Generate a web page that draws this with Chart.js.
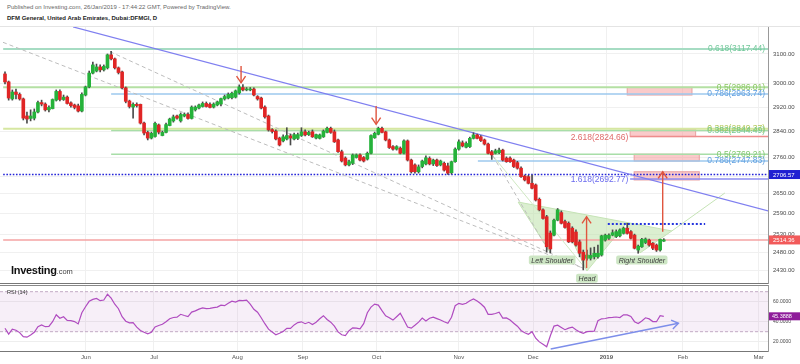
<!DOCTYPE html>
<html>
<head>
<meta charset="utf-8">
<script src="https://cdn.jsdelivr.net/npm/chart.js@4.4.1/dist/chart.umd.min.js"></script>
<style>
  body { margin:0; background:#fff; width:800px; height:364px; overflow:hidden; position:relative; font-family:"Liberation Sans", Arial, sans-serif; }
  #pub { position:absolute; left:7px; top:4px; font-size:6px; color:#666; white-space:nowrap; }
  #title { position:absolute; left:7px; top:14.5px; font-size:6px; font-weight:bold; color:#222; white-space:nowrap; }
  #sep { position:absolute; left:0; top:26px; width:800px; height:1px; background:#e4e4e4; }
  #price { position:absolute; left:0; top:27px; }
  #rsi { position:absolute; left:0; top:285px; }
  #logo { position:absolute; left:11px; top:264px; font-size:11px; font-weight:bold; color:#111; letter-spacing:-0.3px; }
  #logo span { font-size:7.5px; font-weight:normal; color:#444; letter-spacing:0; }
</style>
</head>
<body>
<div id="pub">Published on Investing.com, 26/Jan/2019 - 17:44:22 GMT, Powered by TradingView.</div>
<div id="title">DFM General, United Arab Emirates, Dubai:DFMGI, D</div>
<div id="sep"></div>
<canvas id="price" width="800" height="257"></canvas>
<canvas id="rsi" width="800" height="79"></canvas>
<div id="logo">Investing<span>.com</span></div>

<script>
// daily candles, May 2018 - 24 Jan 2019 (bar index 0..180)
const opens = [3031,3004,2947,2970,2962,2947,2891,2883,2884,2904,2935,2930,2911,2915,2943,2972,2945,2953,2934,2927,
  2924,2907,2960,2987,3034,3041,3055,3045,3052,3097,3083,3052,3038,2984,2940,2920,2929,2929,2868,2838,
  2820,2825,2862,2828,2838,2860,2875,2891,2875,2891,2896,2883,2911,2917,2922,2932,2929,2920,2927,2930,
  2947,2950,2951,2953,2967,2985,2977,2977,2980,2955,2950,2920,2891,2847,2842,2820,2811,2817,2827,2817,
  2819,2828,2840,2831,2840,2820,2819,2824,2838,2851,2840,2814,2777,2757,2736,2741,2759,2767,2759,2754,
  2772,2821,2832,2851,2840,2814,2793,2785,2788,2772,2811,2751,2736,2715,2731,2739,2756,2739,2751,2736,
  2741,2733,2712,2746,2785,2805,2791,2793,2819,2830,2824,2814,2801,2777,2772,2774,2782,2757,2757,2751,
  2743,2726,2702,2700,2680,2675,2632,2601,2581,2534,2528,2571,2593,2567,2562,2548,2537,2509,2480,2463,
  2463,2467,2467,2472,2514,2519,2528,2524,2526,2533,2548,2538,2528,2486,2495,2507,2514,2505,2500,2486,2511];
const highs = [3038,3007,2977,2980,2967,2950,2904,2911,2914,2940,2943,2934,2924,2947,2977,2977,2960,2957,2937,2930,
  2930,2967,2990,3041,3072,3065,3062,3062,3100,3109,3086,3055,3041,2987,2943,2934,2934,2930,2871,2842,
  2839,2871,2865,2842,2868,2884,2894,2894,2901,2901,2901,2924,2924,2930,2937,2937,2934,2934,2940,2950,
  2960,2967,2970,2977,2994,2995,2985,2985,2984,2958,2953,2924,2894,2850,2846,2823,2830,2853,2833,2836,
  2836,2853,2846,2842,2846,2833,2833,2846,2855,2855,2846,2817,2782,2761,2751,2770,2770,2770,2762,2776,
  2830,2839,2855,2855,2842,2817,2796,2796,2792,2814,2814,2754,2739,2736,2751,2764,2761,2754,2754,2751,
  2745,2742,2748,2789,2814,2811,2808,2823,2837,2833,2828,2817,2804,2781,2785,2788,2785,2761,2761,2754,
  2747,2730,2705,2704,2705,2678,2636,2604,2585,2540,2574,2605,2598,2571,2566,2552,2543,2514,2486,2486,
  2492,2494,2500,2528,2531,2532,2543,2543,2546,2551,2562,2541,2531,2500,2519,2520,2517,2507,2503,2517,2518];
const lows = [2997,2943,2943,2947,2943,2878,2868,2875,2878,2901,2924,2907,2904,2914,2940,2940,2942,2930,2920,2914,
  2904,2904,2957,2984,3031,3038,3038,3041,3048,3079,3048,3031,2980,2934,2917,2884,2920,2865,2830,2814,
  2817,2823,2833,2827,2836,2859,2871,2881,2871,2888,2881,2881,2907,2914,2920,2920,2917,2917,2924,2924,
  2943,2947,2947,2950,2963,2974,2974,2974,2957,2943,2914,2884,2842,2836,2814,2795,2808,2814,2798,2814,
  2815,2825,2827,2828,2822,2817,2817,2822,2836,2835,2806,2775,2745,2733,2733,2737,2757,2748,2745,2751,
  2770,2819,2830,2836,2811,2787,2782,2782,2770,2770,2748,2711,2711,2711,2727,2736,2736,2734,2731,2733,
  2717,2707,2708,2744,2782,2792,2789,2790,2817,2817,2809,2798,2770,2753,2770,2771,2748,2744,2744,2728,
  2723,2698,2687,2678,2663,2627,2598,2574,2480,2478,2526,2569,2560,2548,2507,2506,2497,2467,2431,2458,
  2458,2461,2463,2469,2511,2516,2526,2521,2523,2531,2531,2517,2489,2477,2493,2504,2497,2487,2482,2483,2510];
const closes = [3004,2950,2970,2962,2947,2884,2881,2891,2904,2935,2930,2911,2919,2945,2972,2945,2953,2932,2925,2919,
  2907,2962,2987,3034,3062,3055,3045,3057,3097,3083,3052,3036,2984,2939,2922,2929,2925,2868,2836,2820,
  2835,2867,2839,2838,2863,2881,2888,2884,2896,2896,2883,2920,2920,2927,2932,2922,2919,2930,2937,2948,
  2955,2962,2966,2974,2987,2977,2980,2980,2960,2947,2917,2888,2846,2841,2817,2798,2824,2828,2820,2831,
  2831,2840,2830,2838,2824,2831,2830,2842,2851,2838,2808,2777,2748,2736,2746,2767,2767,2751,2748,2772,
  2828,2835,2851,2838,2814,2790,2785,2793,2772,2811,2751,2715,2715,2730,2748,2758,2739,2751,2734,2748,
  2720,2711,2746,2785,2808,2795,2803,2819,2830,2819,2812,2801,2772,2767,2780,2782,2751,2746,2746,2731,
  2726,2700,2690,2680,2665,2630,2601,2576,2495,2489,2571,2601,2562,2550,2509,2509,2500,2477,2458,2472,
  2471,2477,2477,2526,2528,2528,2535,2538,2543,2548,2533,2519,2491,2497,2516,2517,2500,2491,2486,2516,2514.36];
// RSI(14)
const rsi14 = [33.4,27.6,32.5,31.5,29.1,25,24.5,26.7,29.4,35,36.7,35,35.3,40,47,43.4,44.9,41.3,41,40.1,
  37.8,49,55,60.4,62.3,63.3,61,61.7,67.4,63.5,57.5,53,45,40.5,38.8,39,34.5,31.2,29.4,27.8,
  29.5,34.7,36.2,37.4,40,43,44.2,44.5,47.4,46.2,45.1,49.6,50.8,52.6,53.8,53,53.3,54.1,54.6,56.6,
  56,58.4,60.5,59.6,61.3,61.1,61.6,57.5,52.4,49.5,44,38,32.5,29.8,27,28.5,30.3,33.4,33.3,36.8,
  39.1,39.9,38,39.4,37.2,39.4,42.9,46,42.2,39.5,35.6,29.8,26.9,26.2,31,33.9,33.5,32.8,38,49,
  54.6,57.6,56.6,51,45.8,44,41.6,45,48.5,41.7,34.7,33.6,36.5,39.6,43.7,40.7,43.5,44.5,43.1,41.7,
  40,38.4,44.5,56,58.4,57.4,58.4,61,62.7,60.7,58,54.5,47.4,47.4,48.2,49.4,43.6,43.8,41.6,38.5,
  35.5,31.2,29,27.4,30,23.5,19.8,17.4,15,26,35.6,36.5,34.2,32,33.6,34.6,32,29.8,28.4,30,
  30.3,30.6,41,42.9,43.2,44,44.3,44.7,44.2,46.9,46.8,45.2,40,38.2,40.7,43.9,42.8,40.1,40,46,45.3888];

// axis ticks
const monthLabels = ['Jun','Jul','Aug','Sep','Oct','Nov','Dec','2019','Feb','Mar'];
const monthBars = [22.1,40.7,63.5,81.4,101.5,124.0,144.3,164.3,185.2,205.9];
const priceTicks = [2430,2480,2530,2590,2650,2700,2760,2840,2920,3000,3100];
const rsiTicks = [20,40,60];

// drawings: horizontal levels (price, first bar, last bar)
const levelPrices = [3117.44,2986.01,2963.74,2849.37,2844.49,2769.21,2747.83,2824.66,2692.77,2706.57,2514.36,2560];
const levelFrom   = [-0.5,-0.5,29,-0.5,29,29,129.2,170.8,170.8,-0.5,-0.5,164.7];
const levelTo     = [209,209,209,209,209,209,209,209,209,209,209,191.3];
const fibNames = ['0.618(3117.44)','0.5(2986.01)','0.786(2963.74)','0.382(2849.37)','0.382(2844.49)','0.5(2769.21)','0.786(2747.83)'];
const fibPrices = [3117.44,2986.01,2963.74,2849.37,2844.49,2769.21,2747.83];
const extNames = ['2.618(2824.66)','1.618(2692.77)'];
const extPrices = [2824.66,2692.77];
// trend lines [bar, price]
const trendBlue = [[18.6,3196],[208.5,2598]];
const trendGrayA = [[-0.55,3141],[157.9,2436]];
const trendGrayB = [[28.7,3108],[157.9,2436]];
const trendGrayC = [[133.3,2764],[148.4,2486]];
const trendGreen = [[133.3,2764],[159,2430]];
// head & shoulders points
const hsBars   = [140.2,148.9,150.8,159,169.9,173.5,182.2];
const hsPrices = [2624,2480,2603,2428,2564,2478,2540];
const hsExtend = [[182.2,2540],[196.7,2651]];
// target boxes [bar from, bar to, price top, price bottom]
const boxes = [[170,187.7,2986,2960],[170.8,188.7,2848,2824.66],[171.9,189.7,2769.21,2747.83],[171.9,189.7,2715,2690]];
// arrows [bar, price from, price to]
const arrows = [[64.5,3058,3001],[101.4,2924,2864],[158.9,2436,2581],[179.7,2538,2715]];
const tags = [['Left Shoulder',149.5,2458],['Head',159,2408],['Right Shoulder',174,2458]];
// RSI divergence arrow [bar, rsi]
const rsiArrow = [[149.1,12.7],[184,38.4]];

const FONT = '"Liberation Sans", Arial, sans-serif';
const xMin = -1.366, xMax = 208.47;
const bars = closes.map((c, i) => i);
const up = bars.map(i => closes[i] >= opens[i]);

function seg(pts, color, width, dash, order) {
  return { type:'line', data: pts.map(p => ({x:p[0], y:p[1]})), borderColor:color, borderWidth:width,
    borderDash:dash || [], pointRadius:0, fill:false, tension:0, order:order };
}

const levelColors = ['#a6dcc3','#b4e0a3','#9cc8ee','#d6e7a1','#a8dea8','#a8dea8','#9cc8ee','#ee8c8c','#8c8cf2','#2424d8','#f5a3a3','#2233dd'];
const levelWidths = [2,2,1.5,2,1.5,1.5,1.5,1.5,1.5,1.6,1.5,2];
const levelDash = [null,null,null,null,null,null,null,null,null,[1.6,1.6],null,[2,2]];

const priceSets = [
  { type:'bar', data: bars.map(i => ({x:i, y:[opens[i], closes[i]]})),
    backgroundColor: up.map(u => u ? '#25b23a' : '#e02525'), barThickness:3, minBarLength:1, grouped:false, order:0 },
  { type:'bar', data: bars.map(i => ({x:i, y:[lows[i], highs[i]]})),
    backgroundColor:'#4a4a4a', barThickness:1, grouped:false, order:1 },
  seg(trendBlue, '#7f7ff0', 1.2, null, 2),
  seg(trendGrayA, '#bdbdbd', 1, [4,3], 2),
  seg(trendGrayB, '#bdbdbd', 1, [4,3], 2),
  seg(trendGrayC, '#bdbdbd', 1, [4,3], 2),
  seg(trendGreen, '#cfe8c2', 1, null, 2),
  seg(hsExtend, '#c5e3b5', 1, null, 2)
];
levelPrices.forEach((p, k) => {
  priceSets.push(seg([[levelFrom[k], p], [levelTo[k], p]], levelColors[k], levelWidths[k], levelDash[k], 3));
});

function drawArrow(ctx, x0, y0, x1, y1, color) {
  ctx.strokeStyle = color; ctx.lineWidth = 1.4;
  ctx.beginPath(); ctx.moveTo(x0, y0); ctx.lineTo(x1, y1); ctx.stroke();
  const a = Math.atan2(y1 - y0, x1 - x0), L = 8, w = 0.6;
  ctx.beginPath();
  ctx.moveTo(x1 - L * Math.cos(a - w), y1 - L * Math.sin(a - w));
  ctx.lineTo(x1, y1);
  ctx.lineTo(x1 - L * Math.cos(a + w), y1 - L * Math.sin(a + w));
  ctx.stroke();
}

function axisBox(ctx, chart, yPix, text, bg) {
  const left = chart.chartArea.right + 1;
  ctx.fillStyle = bg;
  ctx.fillRect(left, yPix - 4.5, 800 - left, 9);
  ctx.fillStyle = '#fff';
  ctx.font = '6px ' + FONT;
  ctx.textAlign = 'left'; ctx.textBaseline = 'middle';
  ctx.fillText(text, left + 4, yPix + 0.5);
}

// drop the label overhang padding so the plot fills the canvas
function noPadY(s) { s.width = 32; s.paddingTop = 0; s.paddingBottom = 0; }
function noPadX(h) { return s => { s.height = h; s.paddingLeft = 0; s.paddingRight = 0; }; }

const overlay = {
  id: 'overlay',
  beforeDatasetsDraw(chart) {
    const { ctx, chartArea: ca, scales: { x, y } } = chart;
    ctx.save();
    ctx.beginPath(); ctx.rect(ca.left, ca.top, ca.right - ca.left, ca.bottom - ca.top); ctx.clip();
    // head & shoulders fill
    const P = hsBars.map((b, k) => [x.getPixelForValue(b), y.getPixelForValue(hsPrices[k])]);
    [[0,1,2],[2,3,4],[4,5,6]].forEach(t => {
      ctx.beginPath();
      t.forEach((k, n) => n ? ctx.lineTo(P[k][0], P[k][1]) : ctx.moveTo(P[k][0], P[k][1]));
      ctx.closePath();
      ctx.fillStyle = 'rgba(190,225,170,0.55)';
      ctx.fill();
    });
    ctx.strokeStyle = '#c5e3b5'; ctx.lineWidth = 1;
    ctx.beginPath(); P.forEach((p, n) => n ? ctx.lineTo(p[0], p[1]) : ctx.moveTo(p[0], p[1])); ctx.stroke();
    ctx.beginPath(); ctx.moveTo(P[0][0], P[0][1]); ctx.lineTo(P[6][0], P[6][1]); ctx.stroke();
    // target boxes
    boxes.forEach(b => {
      const x0 = x.getPixelForValue(b[0]), x1 = x.getPixelForValue(b[1]);
      const y0 = y.getPixelForValue(b[2]), y1 = y.getPixelForValue(b[3]);
      ctx.fillStyle = 'rgba(245,150,150,0.5)';
      ctx.fillRect(x0, y0, x1 - x0, y1 - y0);
      ctx.strokeStyle = '#e9a0a0'; ctx.lineWidth = 1;
      ctx.strokeRect(x0, y0, x1 - x0, y1 - y0);
    });
    ctx.restore();
  },
  afterDatasetsDraw(chart) {
    const { ctx, chartArea: ca, scales: { x, y } } = chart;
    ctx.save();
    arrows.forEach(a => {
      const px = x.getPixelForValue(a[0]);
      drawArrow(ctx, px, y.getPixelForValue(a[1]), px, y.getPixelForValue(a[2]), '#e0553f');
    });
    // level texts
    ctx.font = '8.5px ' + FONT; ctx.textAlign = 'right'; ctx.textBaseline = 'middle';
    const fibColors = ['#72c89a','#8cc864','#5f9fe0','#b2c95a','#72c890','#80c870','#5f9fe0'];
    fibNames.forEach((t, k) => {
      ctx.fillStyle = fibColors[k];
      ctx.fillText(t, ca.right - 3, y.getPixelForValue(fibPrices[k]));
    });
    const extColors = ['#e06a6a','#6a6aee'];
    extNames.forEach((t, k) => {
      ctx.fillStyle = extColors[k];
      ctx.fillText(t, x.getPixelForValue(170.3), y.getPixelForValue(extPrices[k]) + 1);
    });
    // pattern tags
    ctx.font = 'italic 7px ' + FONT; ctx.textAlign = 'center';
    tags.forEach(t => {
      const cx = x.getPixelForValue(t[1]), cy = y.getPixelForValue(t[2]);
      const w = ctx.measureText(t[0]).width + 5;
      ctx.fillStyle = '#cde6c4';
      ctx.beginPath(); ctx.roundRect(cx - w / 2, cy - 4.5, w, 9, 2); ctx.fill();
      ctx.fillStyle = '#3c3c3c';
      ctx.fillText(t[0], cx, cy + 0.5);
    });
    // pane bottom border
    ctx.strokeStyle = '#777'; ctx.lineWidth = 1;
    ctx.beginPath(); ctx.moveTo(0, ca.bottom - 0.5); ctx.lineTo(ca.right, ca.bottom - 0.5); ctx.stroke();
    ctx.restore();
  },
  afterDraw(chart) {
    const { ctx, scales: { y } } = chart;
    ctx.save();
    axisBox(ctx, chart, y.getPixelForValue(2706.57), '2706.57', '#2020d2');
    axisBox(ctx, chart, y.getPixelForValue(2514.36), '2514.36', '#f25a5a');
    ctx.restore();
  }
};

new Chart(document.getElementById('price'), {
  type: 'bar',
  data: { datasets: priceSets },
  options: {
    responsive: false, animation: false, devicePixelRatio: 1,
    layout: { padding: 0 },
    plugins: { legend: { display: false }, tooltip: { enabled: false } },
    scales: {
      x: { type: 'linear', min: xMin, max: xMax, offset: false,
        grid: { color: '#f0f0f0', drawTicks: false, offset: false }, border: { display: false },
        ticks: { display: false },
        afterBuildTicks: s => { s.ticks = monthBars.map(v => ({ value: v })); },
        afterFit: noPadX(0) },
      y: { type: 'logarithmic', position: 'right', min: 2392.7, max: 3195.6,
        grid: { color: '#f0f0f0', drawTicks: false }, border: { color: '#999' },
        ticks: { font: { size: 6, family: FONT }, color: '#4a4a4a', padding: 5, autoSkip: false,
          callback: v => v === 2700 ? '' : Number(v).toFixed(2) },
        afterBuildTicks: s => { s.ticks = priceTicks.map(v => ({ value: v })); },
        afterFit: noPadY }
    }
  },
  plugins: [overlay]
});

const rsiPlugin = {
  id: 'rsiband',
  beforeDatasetsDraw(chart) {
    const { ctx, chartArea: ca, scales: { y } } = chart;
    const y70 = y.getPixelForValue(70), y30 = y.getPixelForValue(30);
    ctx.save();
    ctx.fillStyle = 'rgba(190,130,200,0.13)';
    ctx.fillRect(ca.left, y70, ca.right - ca.left, y30 - y70);
    ctx.strokeStyle = '#c2aac4'; ctx.lineWidth = 1; ctx.setLineDash([3, 2]);
    [y70, y30].forEach(v => { ctx.beginPath(); ctx.moveTo(ca.left, v); ctx.lineTo(ca.right, v); ctx.stroke(); });
    ctx.restore();
  },
  afterDatasetsDraw(chart) {
    const { ctx, chartArea: ca, scales: { x, y } } = chart;
    ctx.save();
    drawArrow(ctx, x.getPixelForValue(rsiArrow[0][0]), y.getPixelForValue(rsiArrow[0][1]),
      x.getPixelForValue(rsiArrow[1][0]), y.getPixelForValue(rsiArrow[1][1]), '#7d8eea');
    ctx.fillStyle = '#333'; ctx.font = '5.5px ' + FONT; ctx.textAlign = 'left'; ctx.textBaseline = 'middle';
    ctx.fillText('RSI (14)', 7, 7);
    ctx.strokeStyle = '#888'; ctx.lineWidth = 1;
    ctx.beginPath(); ctx.moveTo(0, ca.top + 0.5); ctx.lineTo(ca.right, ca.top + 0.5); ctx.stroke();
    ctx.restore();
  },
  afterDraw(chart) {
    const { ctx, chartArea: ca, scales: { y } } = chart;
    const v = rsi14[rsi14.length - 1], py = y.getPixelForValue(v);
    ctx.save();
    ctx.fillStyle = '#8e1c9a';
    ctx.fillRect(ca.right + 1, py - 4, 800 - ca.right - 1, 8);
    ctx.fillStyle = '#fff'; ctx.font = '5.5px ' + FONT; ctx.textAlign = 'left'; ctx.textBaseline = 'middle';
    ctx.fillText(v.toFixed(4), ca.right + 4, py + 0.5);
    ctx.restore();
  }
};

new Chart(document.getElementById('rsi'), {
  type: 'line',
  data: { datasets: [{ data: bars.map(i => ({ x: i, y: rsi14[i] })), borderColor: '#b04cc0', borderWidth: 1.2,
    pointRadius: 0, tension: 0, fill: false }] },
  options: {
    responsive: false, animation: false, devicePixelRatio: 1,
    layout: { padding: 0 },
    plugins: { legend: { display: false }, tooltip: { enabled: false } },
    scales: {
      x: { type: 'linear', min: xMin, max: xMax,
        grid: { color: '#f0f0f0', drawTicks: false }, border: { color: '#777' },
        ticks: { autoSkip: false, maxRotation: 0, padding: 3, color: '#555',
          font: c => ({ size: 6, family: FONT, weight: c.index === 7 ? 'bold' : 'normal' }),
          callback: (v, i) => monthLabels[i] },
        afterBuildTicks: s => { s.ticks = monthBars.map(v => ({ value: v })); },
        afterFit: noPadX(13) },
      y: { position: 'right', min: 10.7, max: 76.7,
        grid: { color: '#eeeeee', drawTicks: false }, border: { color: '#999' },
        ticks: { font: { size: 5, family: FONT }, color: '#4a4a4a', padding: 5, autoSkip: false,
          callback: v => Number(v).toFixed(4) },
        afterBuildTicks: s => { s.ticks = rsiTicks.map(v => ({ value: v })); },
        afterFit: noPadY }
    }
  },
  plugins: [rsiPlugin]
});
</script>
</body>
</html>
